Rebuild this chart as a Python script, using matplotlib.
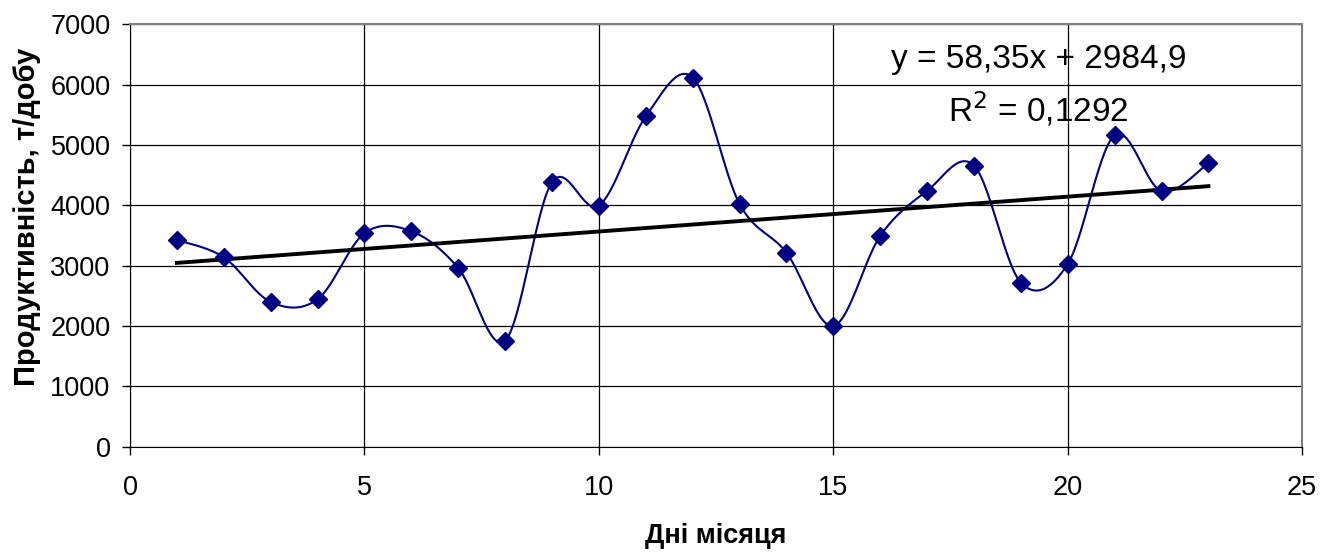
import numpy as np
import matplotlib.pyplot as plt

plt.rcParams['font.family'] = ['Liberation Sans', 'DejaVu Sans']

# day of month and productivity, t/day
days = np.arange(1, 24)
productivity = [3428, 3141, 2400, 2444, 3539, 3572, 2964, 1758, 4385, 3997,
                5473, 6119, 4025, 3217, 2002, 3494, 4241, 4660, 2720, 3030,
                5164, 4235, 4700]

x_ticks = [0, 5, 10, 15, 20, 25]
y_ticks = [0, 1000, 2000, 3000, 4000, 5000, 6000, 7000]


def smooth(x, y, n=30):
    # excel-like smoothed line (catmull-rom through the points)
    x = np.asarray(x, float)
    y = np.asarray(y, float)
    px = np.concatenate([[x[0]], x, [x[-1]]])
    py = np.concatenate([[y[0]], y, [y[-1]]])
    xs, ys = [], []
    t = np.linspace(0, 1, n)
    for i in range(1, len(px) - 2):
        p0 = np.array([px[i], py[i]])
        p3 = np.array([px[i + 1], py[i + 1]])
        c1 = p0 + (p3 - np.array([px[i - 1], py[i - 1]])) / 6
        c2 = p3 - (np.array([px[i + 2], py[i + 2]]) - p0) / 6
        b = ((1 - t) ** 3)[:, None] * p0 + (3 * (1 - t) ** 2 * t)[:, None] * c1 \
            + (3 * (1 - t) * t ** 2)[:, None] * c2 + (t ** 3)[:, None] * p3
        xs.extend(b[:, 0])
        ys.extend(b[:, 1])
    return xs, ys


fig = plt.figure(figsize=(13.2, 5.53), dpi=100)
ax = fig.add_axes([0.0985, 0.192, 0.888, 0.764])

sx, sy = smooth(days, productivity)
ax.plot(sx, sy, color='#000080', lw=1.5, zorder=3)
ax.plot(days, productivity, 'D', color='#000080', markersize=9, zorder=4)

# linear trend
k, b = np.polyfit(days, productivity, 1)
tx = np.array([days[0], days[-1]])
ax.plot(tx, k * tx + b, color='black', lw=2.8, zorder=3)

ax.text(0.775, 0.916, 'y = 58,35x + 2984,9', transform=ax.transAxes,
        ha='center', va='center', fontsize=24)
ax.text(0.775, 0.80, 'R$^2$ = 0,1292', transform=ax.transAxes,
        ha='center', va='center', fontsize=24)

ax.set_xlim(0, 25)
ax.set_ylim(0, 7000)
ax.set_xticks(x_ticks)
ax.set_yticks(y_ticks)
ax.tick_params(labelsize=19.5, length=6, width=1, direction='out')
ax.tick_params(axis='x', pad=14)
ax.tick_params(axis='y', pad=8)
ax.grid(True, color='black', lw=0.9)
ax.set_axisbelow(True)
for s in ['top', 'right']:
    ax.spines[s].set_color('#808080')
    ax.spines[s].set_linewidth(1.5)

ax.set_xlabel('Дні місяця', fontsize=19.5, fontweight='bold', labelpad=16)
ax.set_ylabel('Продуктивність, т/добу', fontsize=21, fontweight='bold')
ax.yaxis.set_label_coords(-0.076, 0.544)

fig.savefig('out.png', dpi=100)
